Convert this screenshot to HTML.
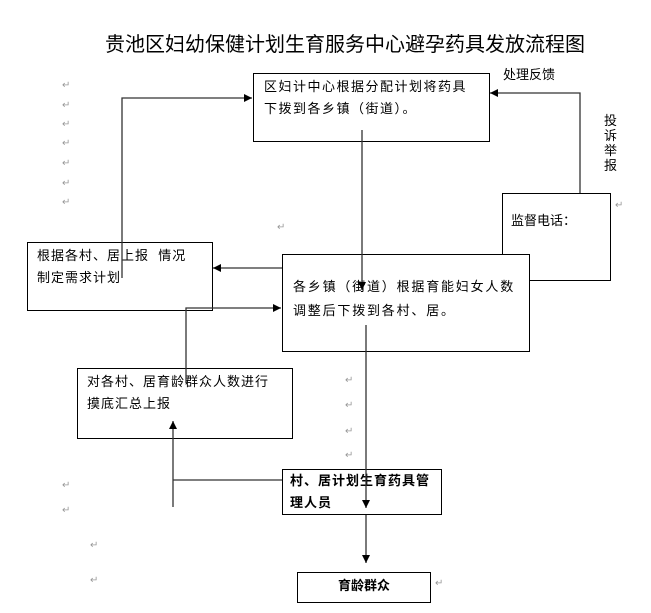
<!DOCTYPE html>
<html><head><meta charset="utf-8"><style>
body{margin:0;width:651px;height:613px;background:#fff;position:relative;overflow:hidden;font-family:"Liberation Sans","Noto Sans CJK SC","WenQuanYi Zen Hei",sans-serif;color:#000}
.b{position:absolute;border:1px solid #000;background:#fff;box-sizing:border-box;font-size:13px;line-height:22px}
.t{position:absolute;white-space:nowrap}
.m{position:absolute;font-size:10px;color:#999}
svg{position:absolute;left:0;top:0}
</style></head><body>
<div class="t" style="left:105px;top:28px;font-size:20px">贵池区妇幼保健计划生育服务中心避孕药具发放流程图</div>
<div class="b" style="left:253px;top:73px;width:237px;height:69px;padding:2px 0 0 10px;letter-spacing:1.5px">区妇计中心根据分配计划将药具<br>下拨到各乡镇（街道）。</div>
<div class="b" style="left:27px;top:242px;width:186px;height:69px;padding:2px 0 0 9px;letter-spacing:1px">根据各村、居上报&nbsp;&nbsp;情况<br>制定需求计划</div>
<div class="b" style="left:502px;top:193px;width:109px;height:88px;padding:16px 0 0 8px">监督电话：</div>
<div class="b" style="left:282px;top:254px;width:248px;height:98px;padding:20px 0 0 10px;letter-spacing:1.8px;line-height:24px">各乡镇（街道）根据育能妇女人数<br>调整后下拨到各村、居。</div>
<div class="b" style="left:77px;top:368px;width:216px;height:71px;padding:2px 0 0 9px;letter-spacing:1px">对各村、居育龄群众人数进行<br>摸底汇总上报</div>
<div class="b" style="left:282px;top:469px;width:160px;height:46px;padding:0 0 0 7px;font-weight:bold;letter-spacing:1px">村、居计划生育药具管<br>理人员</div>
<div class="b" style="left:297px;top:572px;width:134px;height:31px;padding:2px 0 0 40px;font-weight:bold">育龄群众</div>
<div class="t" style="left:503px;top:64px;font-size:13px">处理反馈</div>
<div class="t" style="left:604px;top:113px;font-size:13px;line-height:15px;width:14px;white-space:normal">投诉举报</div>
<svg width="651" height="613">
<defs><marker id="a" markerWidth="8" markerHeight="8" refX="8" refY="4" orient="auto" markerUnits="userSpaceOnUse"><path d="M0,0L8,4L0,8z" fill="#000"/></marker></defs>
<g stroke="#333" stroke-width="1.3" fill="none">
<polyline points="122,278 122,98 252,98" marker-end="url(#a)"/>
<polyline points="362,130 362,290" marker-end="url(#a)"/>
<polyline points="282,268 213,268" marker-end="url(#a)"/>
<polyline points="186,383 186,308 281,308" marker-end="url(#a)"/>
<polyline points="366,325 366,508" marker-end="url(#a)"/>
<polyline points="366,515 366,563" marker-end="url(#a)"/>
<polyline points="282,480 173,480"/>
<polyline points="173,507 173,421" marker-end="url(#a)"/>
<polyline points="580,193 580,93 490,93" marker-end="url(#a)"/>
</g></svg>
<div class="m" style="left:62px;top:80px">↵</div><div class="m" style="left:62px;top:100px">↵</div><div class="m" style="left:62px;top:119px">↵</div><div class="m" style="left:62px;top:138px">↵</div><div class="m" style="left:62px;top:158px">↵</div><div class="m" style="left:62px;top:178px">↵</div><div class="m" style="left:62px;top:197px">↵</div>
<div class="m" style="left:277px;top:222px">↵</div><div class="m" style="left:345px;top:375px">↵</div><div class="m" style="left:345px;top:400px">↵</div><div class="m" style="left:345px;top:426px">↵</div><div class="m" style="left:345px;top:450px">↵</div>
<div class="m" style="left:62px;top:480px">↵</div><div class="m" style="left:62px;top:505px">↵</div><div class="m" style="left:90px;top:540px">↵</div><div class="m" style="left:90px;top:575px">↵</div><div class="m" style="left:435px;top:578px">↵</div><div class="m" style="left:615px;top:200px">↵</div>
</body></html>
